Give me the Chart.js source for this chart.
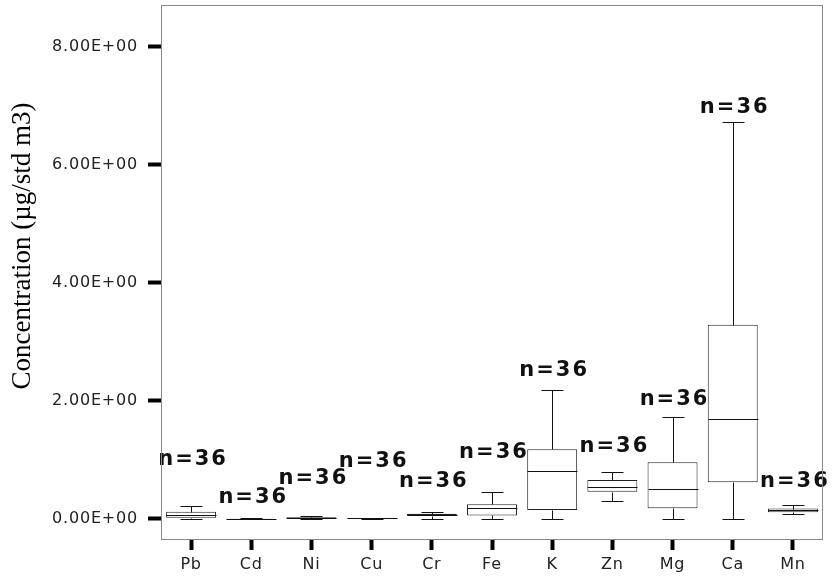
<!DOCTYPE html>
<html>
<head>
<meta charset="utf-8">
<script src="https://cdn.jsdelivr.net/npm/chart.js@4.4.0/dist/chart.umd.min.js"></script>
<style>
  html, body { margin: 0; padding: 0; background: #fff; }
</style>
</head>
<body>
<canvas id="boxChart" width="833" height="579"></canvas>
<script>
// box plot values per element (µg/std m3)
const elements  = ['Pb', 'Cd', 'Ni', 'Cu', 'Cr', 'Fe', 'K', 'Zn', 'Mg', 'Ca', 'Mn'];
const minVals   = [0.00, 0.000, 0.005, 0.005, 0.00, 0.00, 0.00, 0.31, 0.00, 0.00, 0.085];
const q1Vals    = [0.02, 0.002, 0.008, 0.008, 0.055, 0.06, 0.15, 0.46, 0.18, 0.62, 0.115];
const medVals   = [0.07, 0.004, 0.020, 0.012, 0.075, 0.18, 0.81, 0.54, 0.50, 1.69, 0.150];
const q3Vals    = [0.12, 0.006, 0.030, 0.016, 0.090, 0.25, 1.18, 0.66, 0.96, 3.29, 0.175];
const maxVals   = [0.22, 0.008, 0.056, 0.020, 0.120, 0.45, 2.19, 0.80, 1.72, 6.72, 0.240];
const nCounts   = [36, 36, 36, 36, 36, 36, 36, 36, 36, 36, 36];
// where the "n=" label sits, in axis units
const nLabelAt  = [1.00, 0.37, 0.69, 0.97, 0.63, 1.12, 2.51, 1.22, 2.02, 6.97, 0.63];
const yTicks    = [0, 2, 4, 6, 8];
const yTitle    = 'Concentration (µg/std m3)';

// medians, whiskers and n labels on top of the floating bars
const boxExtras = {
  id: 'boxExtras',
  beforeDraw(chart) {
    // tick labels in the original are a little spread out
    chart.ctx.letterSpacing = '0.8px';
  },
  afterDatasetsDraw(chart) {
    const ctx = chart.ctx;
    const y = chart.scales.y;
    const meta = chart.getDatasetMeta(0);
    ctx.save();
    meta.data.forEach((bar, i) => {
      const x = Math.round(bar.x) + 0.5;
      const half = bar.width / 2;
      const cap = bar.width * 0.22;
      const py = v => Math.round(y.getPixelForValue(v)) + 0.5;

      ctx.strokeStyle = '#111';
      ctx.lineWidth = 1;
      ctx.beginPath();
      // median
      ctx.moveTo(x - half, py(medVals[i]));
      ctx.lineTo(x + half, py(medVals[i]));
      // upper whisker + cap
      ctx.moveTo(x, py(q3Vals[i]));
      ctx.lineTo(x, py(maxVals[i]));
      ctx.moveTo(x - cap, py(maxVals[i]));
      ctx.lineTo(x + cap, py(maxVals[i]));
      // lower whisker + cap
      ctx.moveTo(x, py(q1Vals[i]));
      ctx.lineTo(x, py(minVals[i]));
      ctx.moveTo(x - cap, py(minVals[i]));
      ctx.lineTo(x + cap, py(minVals[i]));
      ctx.stroke();

      ctx.fillStyle = '#111';
      ctx.font = 'bold 21px "DejaVu Sans"';
      ctx.letterSpacing = '2px';
      ctx.textAlign = 'center';
      ctx.textBaseline = 'middle';
      ctx.fillText('n=' + nCounts[i], bar.x + 2, y.getPixelForValue(nLabelAt[i]));
    });
    ctx.restore();
  },
  afterDraw(chart) {
    const ctx = chart.ctx;
    const a = chart.chartArea;
    ctx.save();
    ctx.letterSpacing = '0px';
    ctx.strokeStyle = '#8a8a8a';
    ctx.lineWidth = 1;
    ctx.strokeRect(a.left + 0.5, a.top + 0.5, a.right - a.left - 1, a.bottom - a.top);
    // axis title
    ctx.translate(23, 246);
    ctx.rotate(-Math.PI / 2);
    ctx.fillStyle = '#000';
    ctx.font = '27px "Liberation Serif"';
    ctx.textAlign = 'center';
    ctx.textBaseline = 'middle';
    ctx.fillText(yTitle, 0, 0);
    ctx.restore();
  }
};

new Chart(document.getElementById('boxChart'), {
  type: 'bar',
  data: {
    labels: elements,
    datasets: [{
      data: elements.map((e, i) => [q1Vals[i], q3Vals[i]]),
      backgroundColor: '#fff',
      borderColor: '#222',
      borderWidth: 1,
      borderSkipped: false,
      categoryPercentage: 0.83,
      barPercentage: 1
    }]
  },
  options: {
    responsive: false,
    devicePixelRatio: 1,
    animation: false,
    layout: { padding: { top: 5, right: 10, left: 0, bottom: 0 } },
    plugins: { legend: { display: false }, tooltip: { enabled: false } },
    scales: {
      x: {
        offset: true,
        border: { display: false },
        grid: { offset: false, drawOnChartArea: false, tickLength: 11, tickWidth: 4, tickColor: '#000' },
        ticks: { color: '#222', font: { family: 'DejaVu Sans', size: 16 }, padding: 5, maxRotation: 0 },
        afterFit: s => { s.height = 40; s.paddingLeft = 0; s.paddingRight = 0; }
      },
      y: {
        min: -0.34,
        max: 8.71,
        border: { display: false },
        afterBuildTicks: s => { s.ticks = yTicks.map(v => ({ value: v })); },
        grid: { drawOnChartArea: false, tickLength: 13, tickWidth: 4, tickColor: '#000' },
        ticks: {
          color: '#222',
          font: { family: 'DejaVu Sans', size: 16 },
          padding: 10,
          callback: v => v.toFixed(2) + 'E+00'
        },
        afterFit: s => { s.width = 161; s.paddingTop = 0; s.paddingBottom = 0; }
      }
    }
  },
  plugins: [boxExtras]
});
</script>
</body>
</html>
